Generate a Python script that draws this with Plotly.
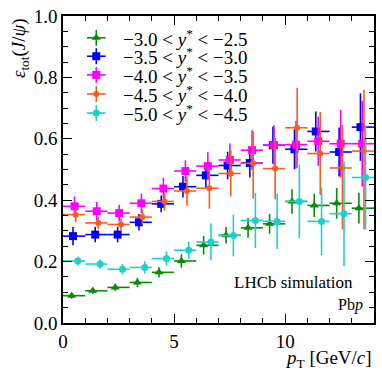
"""
LHCb simulation: total J/psi efficiency vs pT in Pbp rapidity bins
"""
import plotly.graph_objects as go

bin_lo = list(range(14))  # pT bins 0-1, 1-2, ..., 13-14 GeV/c

# -3.0 < y* < -2.5
pt_a = [0.39, 1.34, 2.35, 3.35, 4.32, 5.33, 6.33, 7.34, 8.33, 9.30, 10.31, 11.31, 12.32, 13.32]
eff_a = [0.089, 0.105, 0.116, 0.132, 0.165, 0.202, 0.253, 0.286, 0.310, 0.323, 0.396, 0.383, 0.390, 0.374]
err_a = [0.010, 0.010, 0.012, 0.015, 0.017, 0.022, 0.030, 0.027, 0.032, 0.032, 0.040, 0.038, 0.050, 0.050]

# -3.5 < y* < -3.0
pt_b = [0.45, 1.45, 2.46, 3.42, 4.42, 5.40, 6.43, 7.41, 8.41, 9.45, 10.42, 11.38, 12.43, 13.39]
eff_b = [0.283, 0.288, 0.288, 0.328, 0.388, 0.444, 0.481, 0.513, 0.521, 0.579, 0.566, 0.624, 0.557, 0.638]
err_b = [0.030, 0.025, 0.025, 0.027, 0.027, 0.035, 0.040, 0.045, 0.047, 0.060, 0.065, 0.065, 0.080, 0.110]

# -4.0 < y* < -3.5
pt_c = [0.52, 1.52, 2.53, 3.53, 4.52, 5.51, 6.52, 7.51, 8.51, 9.50, 10.49, 11.49, 12.50, 13.47]
eff_c = [0.380, 0.364, 0.358, 0.390, 0.438, 0.495, 0.511, 0.531, 0.563, 0.579, 0.581, 0.592, 0.584, 0.584]
err_c = [0.032, 0.030, 0.027, 0.032, 0.035, 0.035, 0.045, 0.054, 0.065, 0.065, 0.078, 0.080, 0.110, 0.140]

# -4.5 < y* < -4.0
pt_d = [0.57, 1.59, 2.61, 3.57, 4.57, 5.58, 6.59, 7.55, 8.56, 9.55, 10.54, 11.58, 12.58, 13.55]
eff_d = [0.353, 0.326, 0.321, 0.345, 0.396, 0.430, 0.439, 0.487, 0.520, 0.503, 0.636, 0.552, 0.505, 0.560]
err_d_up = [0.025, 0.020, 0.020, 0.025, 0.030, 0.048, 0.067, 0.075, 0.105, 0.100, 0.130, 0.135, 0.140, 0.200]
err_d_dn = [0.025, 0.020, 0.020, 0.025, 0.030, 0.048, 0.067, 0.075, 0.115, 0.100, 0.130, 0.135, 0.200, 0.255]

# -5.0 < y* < -4.5
pt_e = [0.67, 1.67, 2.68, 3.68, 4.66, 5.66, 6.66, 7.67, 8.66, 9.64, 10.64, 11.64, 12.65, 13.62]
eff_e = [0.202, 0.192, 0.175, 0.181, 0.210, 0.237, 0.264, 0.285, 0.334, 0.331, 0.396, 0.331, 0.356, 0.474]
err_e = [0.015, 0.015, 0.017, 0.020, 0.023, 0.028, 0.060, 0.068, 0.090, 0.090, 0.120, 0.110, 0.170, 0.170]

labels = ["\u22123.0 < <i>y</i><sup>*</sup> < \u22122.5",
          "\u22123.5 < <i>y</i><sup>*</sup> < \u22123.0",
          "\u22124.0 < <i>y</i><sup>*</sup> < \u22123.5",
          "\u22124.5 < <i>y</i><sup>*</sup> < \u22124.0",
          "\u22125.0 < <i>y</i><sup>*</sup> < \u22124.5"]

series = [
    (pt_a, eff_a, err_a, err_a, "#0a8a0a", "triangle-up", 8),
    (pt_b, eff_b, err_b, err_b, "#0000ff", "square", 8),
    (pt_c, eff_c, err_c, err_c, "#ff00ff", "square", 8),
    (pt_d, eff_d, err_d_up, err_d_dn, "#ff5a1e", "circle", 6),
    (pt_e, eff_e, err_e, err_e, "#1ecfcf", "circle", 7),
]

FONT = "Liberation Serif"

# hand-made legend (ROOT style, tighter than plotly's): key centre and text start, in paper units
LEG_X, LEG_TX = 0.107, 0.185
LEG_Y = [0.929, 0.869, 0.808, 0.746, 0.684]

fig = go.Figure()
for i, (lab, (pt, eff, eup, edn, col, sym, size)) in enumerate(zip(labels, series)):
    xplus = [lo + 1 - p for lo, p in zip(bin_lo, pt)]
    xminus = [p - lo for lo, p in zip(bin_lo, pt)]
    fig.add_trace(go.Scatter(
        x=pt, y=eff, mode="markers", name=lab, showlegend=False,
        marker=dict(color=col, symbol=sym, size=size, line=dict(width=0)),
        error_x=dict(type="data", array=xplus, arrayminus=xminus, symmetric=False,
                     color=col, thickness=1.6, width=0),
        error_y=dict(type="data", array=eup, arrayminus=edn, symmetric=False,
                     color=col, thickness=1.6, width=0),
    ))
    # legend key: same marker with a cross, drawn on a hidden 0-1 overlay axis
    fig.add_trace(go.Scatter(
        x=[LEG_X], y=[LEG_Y[i]], xaxis="x2", yaxis="y2", mode="markers",
        showlegend=False, hoverinfo="skip",
        marker=dict(color=col, symbol=sym, size=size, line=dict(width=0)),
        error_x=dict(type="constant", value=0.030, color=col, thickness=1.6, width=0),
        error_y=dict(type="constant", value=0.026, color=col, thickness=1.6, width=0),
    ))
    fig.add_annotation(text=lab, xref="paper", yref="paper", x=LEG_TX, y=LEG_Y[i],
                       xanchor="left", yanchor="middle", showarrow=False,
                       font=dict(family=FONT, size=19))

axis_common = dict(showline=True, linecolor="black", linewidth=1.5, mirror="ticks",
                   ticks="inside", ticklen=9, tickwidth=1.2, tickcolor="black",
                   showgrid=False, zeroline=False,
                   tickfont=dict(family=FONT, size=19, color="black"))

fig.update_xaxes(range=[0, 14], tick0=0, dtick=5,
                 minor=dict(ticks="inside", dtick=1, ticklen=5, tickcolor="black", tickwidth=1),
                 **axis_common)
fig.update_yaxes(range=[0, 1.0], tick0=0, dtick=0.2, tickformat=".1f",
                 minor=dict(ticks="inside", dtick=0.05, ticklen=5, tickcolor="black", tickwidth=1),
                 **axis_common)

fig.update_layout(
    width=382, height=379,
    margin=dict(l=63, r=6, t=13, b=56),
    paper_bgcolor="white", plot_bgcolor="white",
    font=dict(family=FONT, color="black"),
    showlegend=False,
    xaxis2=dict(overlaying="x", range=[0, 1], visible=False),
    yaxis2=dict(overlaying="y", range=[0, 1], visible=False),
)

fig.add_annotation(text="<i>p</i><sub>T</sub> [GeV/<i>c</i>]", xref="paper", yref="paper",
                   x=1.0, y=-0.118, xanchor="right", yanchor="middle", showarrow=False,
                   font=dict(family=FONT, size=19))
fig.add_annotation(text="<i>ε</i><sub>tot</sub>(<i>J</i>/<i>ψ</i>)", xref="paper", yref="paper",
                   x=-0.183, y=1.0, xanchor="left", yanchor="top", textangle=-90,
                   showarrow=False, font=dict(family=FONT, size=19))
fig.add_annotation(text="LHCb simulation", xref="paper", yref="paper",
                   x=0.938, y=0.133, xanchor="right", yanchor="middle", showarrow=False,
                   font=dict(family=FONT, size=17))
fig.add_annotation(text="Pb<i>p</i>", xref="paper", yref="paper",
                   x=0.97, y=0.058, xanchor="right", yanchor="middle", showarrow=False,
                   font=dict(family=FONT, size=16))

# drop the browser's default 8px body margin so the figure sits flush in the window
fig.write_html("out.html", config={"displayModeBar": False},
               post_script="document.body.style.margin = '0';")
